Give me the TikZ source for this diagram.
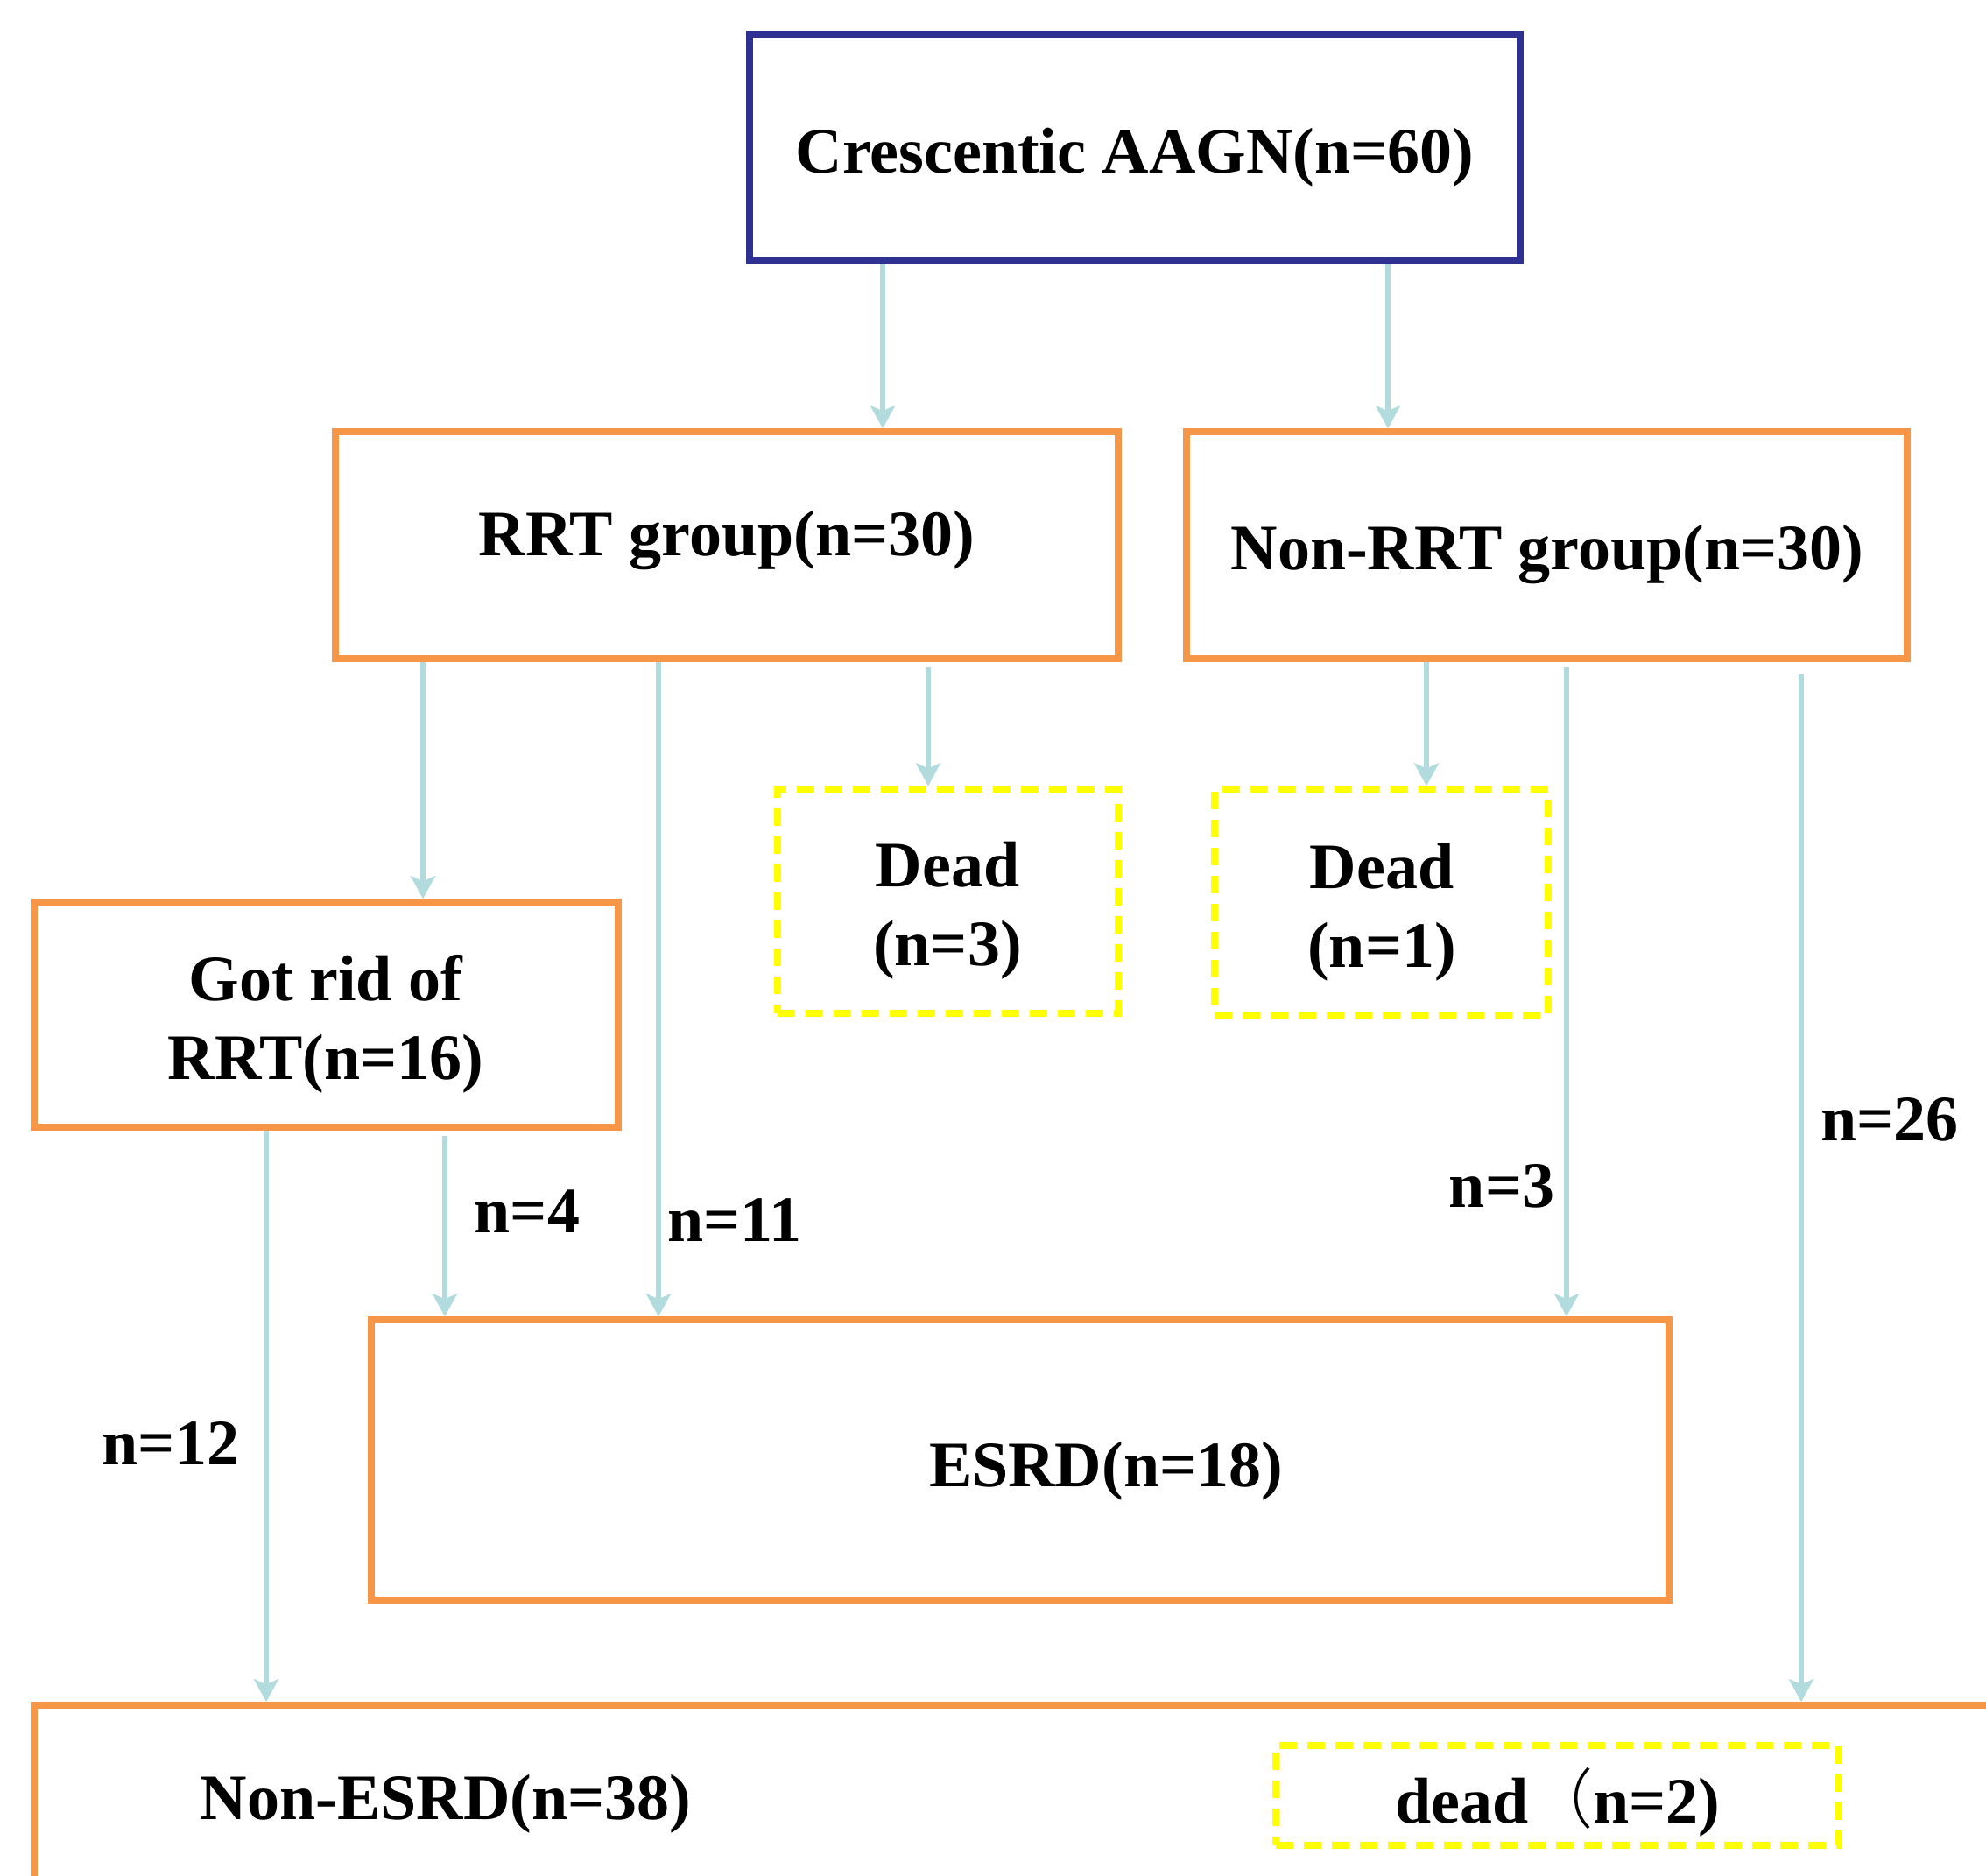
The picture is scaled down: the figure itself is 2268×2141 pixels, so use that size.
\documentclass[tikz,border=0pt]{standalone}
\usepackage{fontspec}
\setmainfont{Liberation Serif}
\newfontfamily\cjk{Noto Sans CJK SC Light}
\usetikzlibrary{arrows.meta}
\definecolor{boxorange}{RGB}{247,150,70}
\definecolor{boxnavy}{RGB}{46,49,146}
\definecolor{deadyellow}{RGB}{255,255,0}
\definecolor{flowblue}{RGB}{178,219,222}
\tikzset{
  every node/.style={font=\bfseries\fontsize{37pt}{45pt}\selectfont, inner sep=0pt, align=center},
  topbox/.style={draw=boxnavy, line width=3.8pt},
  mainbox/.style={draw=boxorange, line width=3.8pt},
  deadbox/.style={draw=deadyellow, line width=3.6pt, dash pattern=on 10pt off 6pt},
  flow/.style={draw=flowblue, line width=3.2pt, -{Stealth[length=13pt,width=14pt,inset=3pt]}},
  count/.style={}
}
\begin{document}
\begin{tikzpicture}[x=0.5pt, y=-0.5pt]
\clip (0,0) rectangle (2268,2141);
\fill[white] (0,0) rectangle (2268,2141);

% boxes
\node[topbox, minimum width=440pt, minimum height=129pt] (top) at (1296,168) {};
\node[mainbox, minimum width=447pt, minimum height=129.5pt] (rrt) at (830,622.5) {};
\node[mainbox, minimum width=411.5pt, minimum height=129.5pt] (nonrrt) at (1766.5,622.5) {};
\node[mainbox, minimum width=333.5pt, minimum height=128.5pt] (gotrid) at (372.5,1158.5) {};
\node[deadbox, minimum width=194.5pt, minimum height=128pt] (deadA) at (1082.5,1029) {};
\node[deadbox, minimum width=190.5pt, minimum height=129.5pt] (deadB) at (1577.5,1030.5) {};
\node[mainbox, minimum width=741pt, minimum height=160pt] (esrd) at (1165,1667) {};
\node[mainbox, minimum width=1140.5pt, minimum height=126.5pt] (nonesrd) at (1179.5,2073.5) {};
\node[deadbox, minimum width=321.5pt, minimum height=57pt] (deadC) at (1778.5,2050) {};

% box texts
\node (toplabel) at (1296,180) {Crescentic AAGN(n=60)};
\node (rrtlabel) at (830,617) {RRT group(n=30)};
\node (nonrrtlabel) at (1767,633) {Non-RRT group(n=30)};
\node (gotridlabel) at (372,1169) {Got rid of\\RRT(n=16)};
\node (deadAlabel) at (1082,1040) {Dead\\(n=3)};
\node (deadBlabel) at (1578,1042) {Dead\\(n=1)};
\node (esrdlabel) at (1263,1680) {ESRD(n=18)};
\node (nonesrdlabel) at (509,2060) {Non-ESRD(n=38)};
\node (deadClabel) at (1779,2058) {dead{\cjk\mdseries （}n=2)};

% connectors
\draw[flow] (top.south -| 1008,0) -- (rrt.north -| 1008,0);
\draw[flow] (top.south -| 1585,0) -- (nonrrt.north -| 1585,0);
\draw[flow] (rrt.south -| 483,0) -- (gotrid.north -| 483,0);
\draw[flow] (rrt.south -| 752,0) -- (esrd.north -| 752,0);
\draw[flow, shorten <=3pt] (rrt.south -| 1060,0) -- (deadA.north -| 1060,0);
\draw[flow] (nonrrt.south -| 1629,0) -- (deadB.north -| 1629,0);
\draw[flow, shorten <=3pt] (nonrrt.south -| 1789,0) -- (esrd.north -| 1789,0);
\draw[flow, shorten <=7pt] (nonrrt.south -| 2057,0) -- (nonesrd.north -| 2057,0);
\draw[flow] (gotrid.south -| 304,0) -- (nonesrd.north -| 304,0);
\draw[flow, shorten <=3pt] (gotrid.south -| 508,0) -- (esrd.north -| 508,0);

% counts on the connectors
\node[count] (c4) at (602,1383) {n=4};
\node[count] (c11) at (839,1393) {n=11};
\node[count] (c3) at (1715,1354) {n=3};
\node[count] (c26) at (2158,1278) {n=26};
\node[count] (c12) at (195,1648) {n=12};
\end{tikzpicture}
\end{document}
